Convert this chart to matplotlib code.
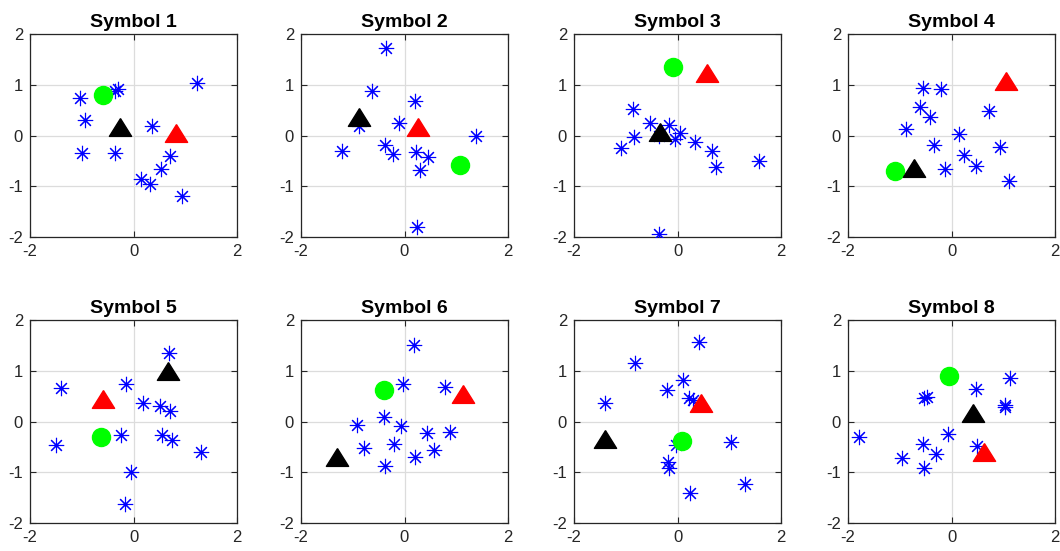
import matplotlib.pyplot as plt
import numpy as np

plt.rcParams['font.family'] = ['Liberation Sans', 'DejaVu Sans']
plt.rcParams['axes.unicode_minus'] = False

# received symbols (blue asterisks), per panel
stars_x = [
    [-1.03, -0.35, -0.30, -0.94, 1.23, 0.36, -0.99, -0.35, 0.71, 0.53, 0.14, 0.31, 0.93],
    [-0.35, -0.63, 0.21, -0.10, -0.87, -1.20, -0.37, -0.23, 0.23, 0.45, 0.30, 1.38, 0.25],
    [-0.855, -0.53, -0.17, 0.045, -0.05, -0.35, -0.85, -1.09, 0.34, 0.66, 0.75, 1.57, -0.35],
    [-0.56, -0.20, -0.61, -0.41, -0.87, 0.15, -0.33, 0.73, 0.93, 0.25, 0.48, -0.135, 1.12],
    [0.69, -1.41, -0.15, 0.18, 0.51, 0.71, -0.25, 0.56, 0.75, -1.50, 1.30, -0.04, -0.16],
    [0.19, -0.035, 0.79, -0.39, -0.91, -0.07, 0.43, 0.87, -0.20, -0.79, 0.57, 0.21, -0.38],
    [0.41, -0.82, 0.11, -0.21, 0.23, 0.30, -1.40, -0.03, 1.04, -0.18, -0.17, 0.25, 1.31],
    [1.13, 0.48, -0.54, -0.48, 1.04, 1.04, -0.06, -1.79, -0.55, 0.50, -0.30, -0.96, -0.53],
]
stars_y = [
    [0.73, 0.88, 0.91, 0.30, 1.03, 0.19, -0.35, -0.35, -0.41, -0.66, -0.85, -0.96, -1.20],
    [1.72, 0.87, 0.68, 0.25, 0.19, -0.30, -0.18, -0.37, -0.33, -0.43, -0.67, 0.0, -1.80],
    [0.53, 0.24, 0.21, 0.05, -0.06, 0.0, -0.03, -0.24, -0.12, -0.30, -0.63, -0.50, -1.94],
    [0.93, 0.92, 0.57, 0.36, 0.13, 0.03, -0.18, 0.49, -0.23, -0.39, -0.60, -0.66, -0.89],
    [1.35, 0.66, 0.74, 0.36, 0.31, 0.20, -0.27, -0.27, -0.36, -0.46, -0.60, -1.00, -1.62],
    [1.51, 0.73, 0.68, 0.09, -0.06, -0.08, -0.22, -0.21, -0.44, -0.53, -0.56, -0.69, -0.87],
    [1.56, 1.16, 0.81, 0.62, 0.46, 0.43, 0.37, -0.47, -0.41, -0.79, -0.91, -1.40, -1.24],
    [0.85, 0.65, 0.46, 0.48, 0.33, 0.28, -0.25, -0.31, -0.44, -0.49, -0.65, -0.72, -0.92],
]

# green circle, black triangle, red triangle per panel
green_x = [-0.585, 1.07, -0.09, -1.10, -0.62, -0.39, 0.09, -0.05]
green_y = [0.80, -0.59, 1.34, -0.70, -0.30, 0.63, -0.39, 0.89]
black_x = [-0.26, -0.88, -0.33, -0.72, 0.66, -1.30, -1.41, 0.41]
black_y = [0.17, 0.37, 0.06, -0.65, 1.00, -0.70, -0.35, 0.17]
red_x = [0.83, 0.26, 0.57, 1.05, -0.585, 1.13, 0.46, 0.63]
red_y = [0.05, 0.16, 1.24, 1.08, 0.45, 0.54, 0.37, -0.60]

titles = ['Symbol %d' % (i + 1) for i in range(8)]

# MATLAB style markers
asterisk = (8, 2, 0)
tri = [(0, 0.8), (-1, -0.8), (1, -0.8), (0, 0.8)]

fig = plt.figure(figsize=(10.6, 5.51), dpi=100)
W, H = 1060, 551
lefts = [30, 301, 574, 848]
tops = [34, 320]
aw, ah = 207, 203

for i in range(8):
    r, c = divmod(i, 4)
    ax = fig.add_axes([lefts[c] / W, (H - tops[r] - ah) / H, aw / W, ah / H])
    ax.plot(stars_x[i], stars_y[i], linestyle='none', marker=asterisk,
            color='blue', markersize=11, markeredgewidth=0.8, zorder=3)
    ax.plot(green_x[i], green_y[i], linestyle='none', marker='o',
            color=(0, 1, 0), markersize=13, zorder=4)
    ax.plot(black_x[i], black_y[i], linestyle='none', marker=tri,
            color='black', markersize=16, zorder=4)
    ax.plot(red_x[i], red_y[i], linestyle='none', marker=tri,
            color='red', markersize=16, zorder=4)

    ax.set_xlim(-2, 2)
    ax.set_ylim(-2, 2)
    ax.set_xticks([-2, 0, 2])
    ax.set_yticks([-2, -1, 0, 1, 2])
    ax.grid(True, color='#dcdcdc', linewidth=0.9, zorder=0)
    ax.set_axisbelow(True)
    ax.tick_params(direction='in', length=4, width=0.8, top=True, right=True,
                   labelsize=12, colors='#262626', pad=5)
    for s in ax.spines.values():
        s.set_color('#262626')
        s.set_linewidth(0.9)
    ax.set_title(titles[i], fontsize=14, fontweight='bold', pad=5)

fig.savefig('out.png', dpi=100)
